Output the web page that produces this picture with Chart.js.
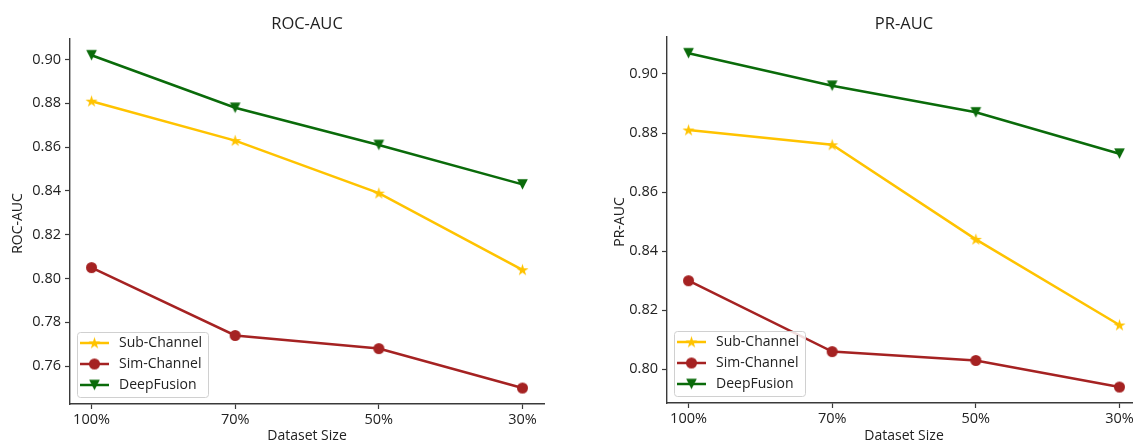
<!DOCTYPE html>
<html>
<head>
<meta charset="utf-8">
<script src="https://cdn.jsdelivr.net/npm/chart.js@4.4.1/dist/chart.umd.min.js"></script>
<style>
  html, body { margin:0; padding:0; background:#fff; width:1133px; height:443px; overflow:hidden; }
  #wrap { position:relative; width:1133px; height:443px; overflow:hidden; }
  canvas { position:absolute; top:0; }
</style>
</head>
<body>
<div id="wrap">
  <canvas id="roc" width="566" height="443" style="left:0;width:566px;height:443px"></canvas>
  <canvas id="pr" width="600" height="443" style="left:566px;width:600px;height:443px"></canvas>
</div>
<script>
// ---- data ----
const categories = ['100%', '70%', '50%', '30%'];
const seriesNames = ['Sub-Channel', 'Sim-Channel', 'DeepFusion'];
const rocSub  = [0.881, 0.863, 0.839, 0.804];
const rocSim  = [0.805, 0.774, 0.768, 0.750];
const rocDeep = [0.902, 0.878, 0.861, 0.843];
const prSub   = [0.881, 0.876, 0.844, 0.815];
const prSim   = [0.830, 0.806, 0.803, 0.794];
const prDeep  = [0.907, 0.896, 0.887, 0.873];
const rocTicks = [0.76, 0.78, 0.80, 0.82, 0.84, 0.86, 0.88, 0.90];
const prTicks  = [0.80, 0.82, 0.84, 0.86, 0.88, 0.90];

const COLORS = ['#FFC300', '#A52222', '#0A6B0A'];
const FONT = "'Open Sans', sans-serif";
const TXT = '#222222';
const AX = '#3a3a3a';

// ---- marker images ----
function mk(size) { const c = document.createElement('canvas'); c.width = c.height = size; return c; }
function starImg(color) {
  const s = 15, c = mk(s), g = c.getContext('2d');
  const R = 6.4, r = R * 0.382, cx = s/2, cy = s/2 + 0.4;
  g.beginPath();
  for (let i = 0; i < 10; i++) {
    const rad = i % 2 ? r : R;
    const a = -Math.PI/2 + i * Math.PI/5;
    const x = cx + rad*Math.cos(a), y = cy + rad*Math.sin(a);
    i ? g.lineTo(x, y) : g.moveTo(x, y);
  }
  g.closePath(); g.fillStyle = color; g.fill();
  return c;
}
function circleImg(color) {
  const s = 13, c = mk(s), g = c.getContext('2d');
  g.beginPath(); g.arc(s/2, s/2, 5.5, 0, Math.PI*2); g.fillStyle = color; g.fill();
  return c;
}
function triDownImg(color) {
  const s = 13, c = mk(s), g = c.getContext('2d');
  const r = 5.3, cx = s/2, cy = s/2;
  g.beginPath(); g.moveTo(cx - r, cy - r); g.lineTo(cx + r, cy - r); g.lineTo(cx, cy + r); g.closePath();
  g.fillStyle = color; g.fill();
  return c;
}
const MARKERS = [starImg(COLORS[0]), circleImg(COLORS[1]), triDownImg(COLORS[2])];

// ---- plugin for titles + legend ----
const decor = {
  id: 'decor',
  afterDraw(chart, args, o) {
    const ctx = chart.ctx, a = chart.chartArea;
    ctx.save();
    ctx.fillStyle = TXT;
    // title
    ctx.font = '16.5px ' + FONT; ctx.textAlign = 'center'; ctx.textBaseline = 'middle';
    ctx.fillText(o.title, (a.left + a.right) / 2, 24);
    // x title
    ctx.font = '14px ' + FONT; ctx.textBaseline = 'top';
    ctx.fillText('Dataset Size', (a.left + a.right) / 2, 429);
    // y title
    ctx.save();
    ctx.translate(o.yTitleX, (a.top + a.bottom) / 2 + 2);
    ctx.rotate(-Math.PI / 2);
    ctx.textBaseline = 'middle';
    ctx.fillText(o.title, 0, 0);
    ctx.restore();
    // legend
    const bx = a.left + 7, bw = 131, bh = 65, by = a.bottom - 7 - bh;
    ctx.beginPath();
    if (ctx.roundRect) ctx.roundRect(bx + 0.5, by + 0.5, bw, bh, 3); else ctx.rect(bx + 0.5, by + 0.5, bw, bh);
    ctx.fillStyle = 'rgba(255,255,255,0.85)'; ctx.fill();
    ctx.strokeStyle = '#d0d0d0'; ctx.lineWidth = 1; ctx.stroke();
    chart.data.datasets.forEach((ds, i) => {
      const y = by + 11 + i * 21;
      ctx.beginPath(); ctx.moveTo(bx + 3, y); ctx.lineTo(bx + 32, y);
      ctx.strokeStyle = ds.borderColor; ctx.lineWidth = 2.5; ctx.stroke();
      const img = MARKERS[i];
      ctx.drawImage(img, bx + 17.5 - img.width / 2, y - img.height / 2);
      ctx.fillStyle = TXT; ctx.font = '14px ' + FONT; ctx.textAlign = 'left'; ctx.textBaseline = 'middle';
      ctx.fillText(ds.label, bx + 42, y + 0.5);
    });
    ctx.restore();
  }
};

function makeChart(id, title, series, yMin, yMax, yTicks, yWidth, padTop, padRight, xHeight, yTitleX) {
  return new Chart(document.getElementById(id), {
    type: 'line',
    data: {
      datasets: series.map((vals, i) => ({
        label: seriesNames[i],
        data: vals.map((v, k) => ({ x: k, y: v })),
        borderColor: COLORS[i],
        backgroundColor: COLORS[i],
        borderWidth: 2.5,
        pointStyle: MARKERS[i],
        pointRadius: 6,
        pointHoverRadius: 6,
        tension: 0,
        fill: false,
        clip: false
      }))
    },
    options: {
      responsive: false,
      animation: false,
      events: [],
      layout: { padding: { left: 0, right: padRight, top: padTop, bottom: 0 } },
      plugins: {
        legend: { display: false },
        tooltip: { enabled: false },
        title: { display: false },
        decor: { title: title, yTitleX: yTitleX }
      },
      scales: {
        x: {
          type: 'linear', min: -0.15, max: 3.15,
          afterBuildTicks: s => { s.ticks = categories.map((_, k) => ({ value: k })); },
          afterFit: s => { s.height = xHeight; },
          ticks: { callback: v => categories[v], color: TXT, font: { family: FONT, size: 14.5 }, padding: 2, maxRotation: 0, autoSkip: false },
          grid: { drawOnChartArea: false, drawTicks: true, tickLength: 5, color: AX, tickWidth: 1.2 },
          border: { display: true, color: AX, width: 1.4 }
        },
        y: {
          type: 'linear', min: yMin, max: yMax,
          afterBuildTicks: s => { s.ticks = yTicks.map(v => ({ value: v })); },
          afterFit: s => { s.width = yWidth; },
          ticks: { callback: v => v.toFixed(2), color: TXT, font: { family: FONT, size: 14.5 }, padding: 4 },
          grid: { drawOnChartArea: false, drawTicks: true, tickLength: 5, color: AX, tickWidth: 1.2 },
          border: { display: true, color: AX, width: 1.4 }
        }
      }
    },
    plugins: [decor]
  });
}

makeChart('roc', 'ROC-AUC', [rocSub, rocSim, rocDeep], 0.7427, 0.9094, rocTicks, 70, 39, 22, 39, 18);
makeChart('pr', 'PR-AUC', [prSub, prSim, prDeep], 0.7886, 0.9125, prTicks, 101, 37, 25, 40, 54);
</script>
</body>
</html>
